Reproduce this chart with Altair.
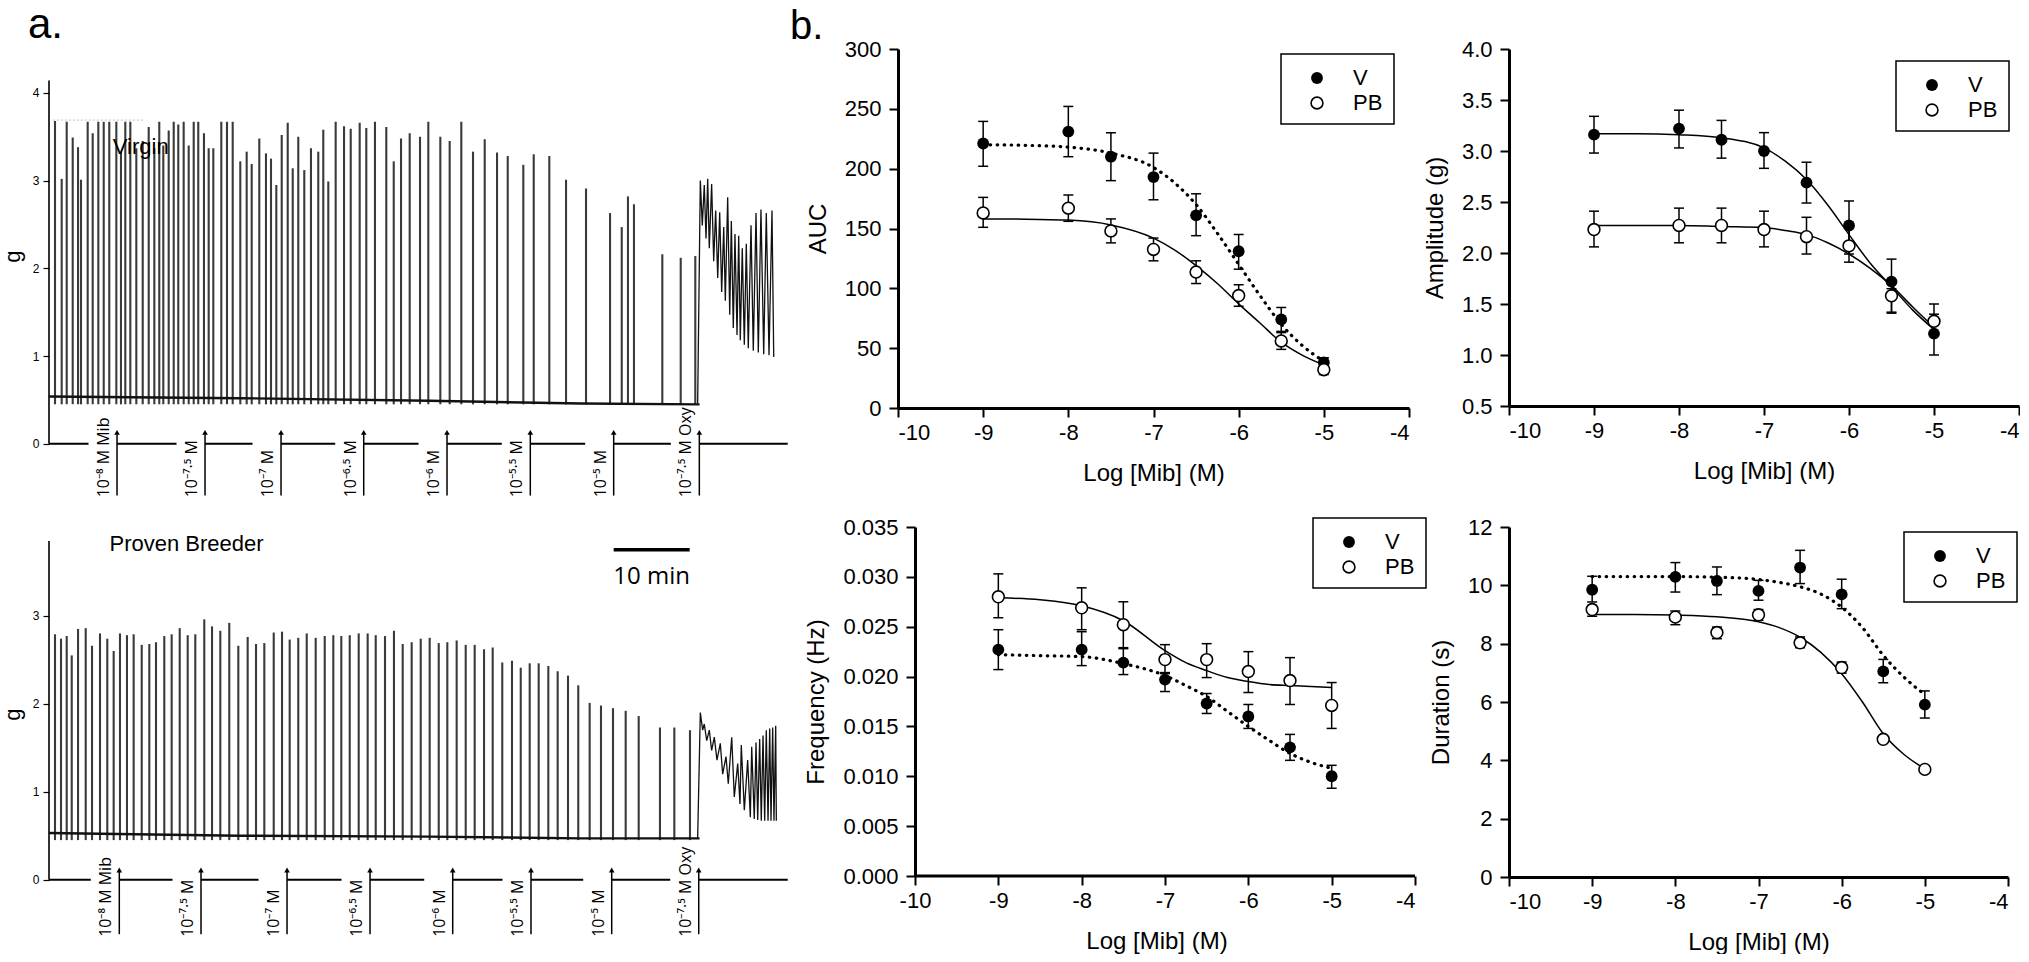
import altair as alt
import pandas as pd

FONT = "Liberation Sans"
LABEL_FONT = "Open Sans"

# ---------------------------------------------------------------
# a. Isometric tension recordings (time in min, tension in g)
# ---------------------------------------------------------------
virgin_peak_min = [0.79, 1.67, 2.33, 3.12, 3.82, 4.21, 5.09, 5.75, 6.49, 7.20,
                   7.93, 8.86, 9.47, 10.04, 10.70, 11.49, 12.33, 13.12, 13.86, 14.51,
                   15.04, 15.75, 16.41, 17.01, 17.72, 18.38, 19.04, 19.64, 20.39, 21.01,
                   21.62, 22.67, 23.42, 24.17, 25.17, 26.01, 26.67, 27.67, 28.55, 29.21,
                   29.91, 30.62, 31.41, 32.07, 32.80, 33.59, 34.47, 35.43, 36.09, 36.75,
                   37.72, 38.82, 39.70, 40.88, 41.75, 42.89, 44.38, 45.36, 46.32, 47.46,
                   48.82, 49.91, 51.49, 52.72, 54.25, 55.79, 57.33, 58.95, 60.36, 62.41,
                   63.78, 65.83, 68.03, 70.66, 73.82, 75.36, 76.18, 76.97, 80.70, 83.12,
                   85.04]
virgin_peak_g = [3.68, 3.02, 3.67, 3.49, 3.38, 3.01, 3.67, 3.54, 3.67, 3.67,
                 3.67, 3.67, 3.33, 3.67, 3.67, 3.37, 3.45, 3.61, 3.37, 3.67,
                 3.40, 3.57, 3.67, 3.64, 3.67, 3.40, 3.67, 3.67, 3.54, 3.37,
                 3.37, 3.67, 3.67, 3.67, 3.22, 3.33, 3.19, 3.48, 3.31, 3.25,
                 2.95, 3.52, 3.66, 3.14, 3.50, 3.12, 3.37, 3.33, 3.58, 2.99,
                 3.67, 3.62, 3.59, 3.66, 3.60, 3.67, 3.61, 3.22, 3.48, 3.54,
                 3.50, 3.67, 3.50, 3.45, 3.67, 3.33, 3.47, 3.32, 3.28, 3.18,
                 3.30, 3.28, 3.01, 2.91, 2.63, 2.47, 2.82, 2.73, 2.16, 2.12,
                 2.14]
virgin_base_min = [0, 25, 50, 70, 85.6]
virgin_base_g = [0.54, 0.52, 0.49, 0.46, 0.45]
virgin_oxy_min = [85.35, 85.70, 85.96, 86.22, 86.45, 86.67, 86.88, 87.19, 87.46, 87.72,
                  87.99, 88.25, 88.51, 88.78, 88.99, 89.30, 89.57, 89.78, 90.04, 90.26,
                  90.53, 90.75, 90.96, 91.22, 91.49, 91.75, 92.01, 92.37, 92.67, 93.03,
                  93.33, 93.68, 94.04, 94.38, 94.74, 95.13, 95.36]
virgin_oxy_g = [0.46, 3.00, 2.49, 2.95, 2.34, 3.02, 2.23, 2.96, 2.08, 2.66,
                1.89, 2.64, 1.73, 2.47, 1.63, 2.81, 1.47, 2.54, 1.32, 2.39,
                1.24, 2.37, 1.18, 2.23, 1.13, 2.28, 1.09, 2.49, 1.06, 2.63,
                1.04, 2.67, 1.02, 2.63, 1.01, 2.66, 0.99]
virgin_add_min = [8.95, 20.53, 30.53, 41.41, 52.37, 63.33, 74.30, 85.57]

breeder_peak_min = [0.79, 1.58, 2.33, 2.99, 3.82, 4.83, 5.66, 6.71, 7.67, 8.51,
                    9.34, 10.26, 11.14, 12.20, 13.20, 14.08, 15.17, 16.14, 17.20, 18.25,
                    19.25, 20.43, 21.45, 22.54, 23.72, 24.91, 26.14, 27.24, 28.33, 29.57,
                    30.66, 31.67, 32.80, 33.91, 35.09, 36.28, 37.41, 38.46, 39.57, 40.75,
                    41.93, 42.99, 44.21, 45.39, 46.54, 47.72, 48.91, 50.09, 51.28, 52.41,
                    53.64, 54.83, 56.01, 57.24, 58.38, 59.64, 60.92, 62.07, 63.25, 64.43,
                    65.70, 66.93, 68.29, 69.64, 71.14, 72.63, 74.21, 75.88, 77.59, 80.39,
                    82.28, 84.34]
breeder_peak_g = [2.79, 2.74, 2.77, 2.55, 2.85, 2.86, 2.66, 2.80, 2.74, 2.60,
                  2.80, 2.78, 2.79, 2.67, 2.68, 2.70, 2.77, 2.79, 2.86, 2.78,
                  2.79, 2.96, 2.88, 2.83, 2.92, 2.66, 2.76, 2.68, 2.69, 2.81,
                  2.82, 2.73, 2.75, 2.80, 2.75, 2.77, 2.78, 2.77, 2.78, 2.80,
                  2.80, 2.78, 2.77, 2.83, 2.68, 2.70, 2.74, 2.75, 2.69, 2.70,
                  2.72, 2.67, 2.67, 2.62, 2.64, 2.47, 2.49, 2.41, 2.46, 2.46,
                  2.43, 2.37, 2.32, 2.21, 2.01, 1.98, 1.95, 1.92, 1.86, 1.73,
                  1.73, 1.70]
breeder_base_min = [0, 25, 50, 70, 85.6]
breeder_base_g = [0.53, 0.50, 0.49, 0.47, 0.47]
breeder_oxy_min = [85.35, 85.70, 86.01, 86.22, 86.54, 86.88, 87.19, 87.54, 87.89, 88.33,
                   88.64, 89.08, 89.38, 89.83, 90.17, 90.62, 90.92, 91.09, 91.49, 91.93,
                   92.28, 92.46, 92.80, 93.03, 93.25, 93.51, 93.72, 93.95, 94.17, 94.38,
                   94.61, 94.83, 95.00, 95.22, 95.39, 95.62, 95.70]
breeder_oxy_g = [0.47, 1.90, 1.70, 1.77, 1.58, 1.70, 1.47, 1.62, 1.36, 1.55,
                 1.20, 1.40, 1.09, 1.62, 0.94, 1.32, 0.86, 1.53, 0.79, 1.36,
                 0.71, 1.51, 0.69, 1.56, 0.68, 1.60, 0.67, 1.64, 0.67, 1.70,
                 0.67, 1.72, 0.67, 1.73, 0.67, 1.75, 0.67]
breeder_add_min = [9.25, 20.00, 31.32, 42.24, 53.12, 63.42, 74.04, 85.49]

additions = ["10⁻⁸ M Mib", "10⁻⁷·⁵ M", "10⁻⁷ M", "10⁻⁶·⁵ M", "10⁻⁶ M",
             "10⁻⁵·⁵ M", "10⁻⁵ M", "10⁻⁷·⁵ M Oxy"]

# ---------------------------------------------------------------
# b. Concentration-response data (mean with SEM bars) and fitted curves
# ---------------------------------------------------------------
dose = [-9, -8, -7.5, -7, -6.5, -6, -5.5, -5]
fit_dose = [-9, -8.5, -8, -7.5, -7, -6.75, -6.5, -6.25, -6, -5.75, -5.5, -5.25, -5]

auc_v = [221, 231, 210, 193, 161, 131, 74, 38]
auc_v_lo = [202, 210, 190, 174, 144, 116, 64, 33]
auc_v_hi = [239.5, 252, 230, 213, 179, 145, 84, 42]
auc_pb = [163, 167, 148, 132.5, 113.6, 94, 56, 32]
auc_pb_lo = [151, 156, 138, 123, 104, 85, 49, 28]
auc_pb_hi = [176, 178, 158, 142, 123, 103, 63, 35]
auc_v_fit = [220, 219.5, 218, 213, 201, 188, 170, 146, 120, 94, 70, 52, 39]
auc_pb_fit = [158, 157.8, 157, 153, 142, 132, 119, 104, 87, 71, 55, 44, 36]

amp_v = [3.16, 3.22, 3.11, 3.00, 2.69, 2.27, 1.72, 1.21]
amp_v_lo = [2.98, 3.03, 2.93, 2.83, 2.49, 1.99, 1.42, 1.00]
amp_v_hi = [3.34, 3.40, 3.30, 3.18, 2.89, 2.51, 1.94, 1.40]
amp_pb = [2.23, 2.27, 2.27, 2.23, 2.16, 2.07, 1.58, 1.33]
amp_pb_lo = [2.06, 2.10, 2.10, 2.06, 1.99, 1.91, 1.41, 1.20]
amp_pb_hi = [2.41, 2.44, 2.44, 2.41, 2.35, 2.25, 1.65, 1.50]
amp_v_fit = [3.17, 3.17, 3.16, 3.13, 3.03, 2.90, 2.72, 2.47, 2.18, 1.90, 1.67, 1.44, 1.25]
amp_pb_fit = [2.27, 2.27, 2.27, 2.26, 2.25, 2.22, 2.18, 2.10, 1.99, 1.85, 1.68, 1.47, 1.27]

freq_v = [0.0227, 0.0227, 0.0214, 0.0197, 0.0173, 0.0160, 0.0129, 0.0100]
freq_v_lo = [0.0207, 0.0211, 0.0202, 0.0185, 0.0163, 0.0148, 0.0116, 0.0088]
freq_v_hi = [0.0247, 0.0245, 0.0229, 0.0204, 0.0183, 0.0172, 0.0142, 0.0111]
freq_pb = [0.0280, 0.0269, 0.0252, 0.0217, 0.0217, 0.0205, 0.0196, 0.0171]
freq_pb_lo = [0.0259, 0.0247, 0.0228, 0.0203, 0.0199, 0.0184, 0.0172, 0.0148]
freq_pb_hi = [0.0303, 0.0289, 0.0275, 0.0232, 0.0233, 0.0225, 0.0219, 0.0194]
freq_v_fit = [0.0222, 0.0221, 0.0220, 0.0213, 0.0201, 0.0191, 0.0180, 0.0165, 0.0150,
              0.0136, 0.0123, 0.0114, 0.0108]
freq_pb_fit = [0.0279, 0.0277, 0.0271, 0.0256, 0.0226, 0.0214, 0.0206, 0.0199, 0.0195,
               0.0192, 0.0191, 0.0190, 0.0189]

dur_v = [9.85, 10.29, 10.15, 9.81, 10.61, 9.69, 7.05, 5.91]
dur_v_lo = [9.43, 9.77, 9.68, 9.49, 10.06, 9.20, 6.66, 5.45]
dur_v_hi = [10.31, 10.78, 10.63, 10.17, 11.20, 10.21, 7.46, 6.38]
dur_pb = [9.17, 8.91, 8.38, 8.99, 8.03, 7.18, 4.72, 3.69]
dur_pb_lo = [8.94, 8.65, 8.17, 8.80, 7.86, 6.99, 4.62, 3.59]
dur_pb_hi = [9.31, 9.12, 8.57, 9.17, 8.23, 7.37, 4.82, 3.79]
dur_v_fit = [10.30, 10.30, 10.30, 10.28, 10.20, 10.10, 9.95, 9.70, 9.25, 8.55, 7.60, 6.85, 6.25]
dur_pb_fit = [9.00, 9.00, 8.98, 8.92, 8.75, 8.55, 8.22, 7.70, 6.97, 6.00, 4.91, 4.20, 3.71]

# ---------------------------------------------------------------
REC_END = 97.2           # minutes covered by the time line
PX_PER_MIN = 7.6
TRACE_W = 755            # plot width of the recordings (a little blank room at right)
TRACE_END = TRACE_W / PX_PER_MIN
LABEL_GAP = 28.5 / PX_PER_MIN   # break in the time line left of each arrow

one = pd.DataFrame({"k": [0]})


def trace_panel(peak_t, peak_g, base_t, base_g, oxy_t, oxy_g, add_t,
                y_dom, height, axis_top, ticks, arrow_lo, arrow_hi, label_y,
                title_y, extras):
    xs = alt.Scale(domain=[0, TRACE_END], nice=False, zero=False)
    ys = alt.Scale(domain=y_dom, nice=False, zero=False)
    yaxis = alt.Axis(values=ticks, domain=False, grid=False, tickSize=6,
                     tickWidth=1.2, labelFontSize=12, labelPadding=4,
                     labelFont=FONT, title="g", titleFontSize=22, titleFont=FONT,
                     titleFontWeight="normal", titleAngle=270, titleX=-37,
                     titleY=title_y, titleAlign="center", titleBaseline="middle")

    def X(f):
        return alt.X(f, type="quantitative", scale=xs, axis=None)

    def Y(f):
        return alt.Y(f, type="quantitative", scale=ys, axis=yaxis)

    axis_df = pd.DataFrame({"t": [0.0], "lo": [0.0], "hi": [axis_top]})
    axis_line = alt.Chart(axis_df).mark_rule(color="black", strokeWidth=1.6).encode(
        x=X("t"), y=Y("lo"), y2="hi")

    seg_df = pd.DataFrame({"s": [0.0] + add_t,
                           "e": [a - LABEL_GAP for a in add_t] + [REC_END],
                           "y": 0.0})
    time_line = alt.Chart(seg_df).mark_rule(color="black", strokeWidth=2).encode(
        x=X("s"), x2="e", y=Y("y"))

    add_df = pd.DataFrame({"t": add_t, "lab": additions, "lo": arrow_lo,
                           "hi": arrow_hi, "ly": label_y})
    arrows = alt.Chart(add_df).mark_rule(color="black", strokeWidth=1.5).encode(
        x=X("t"), y=Y("lo"), y2="hi")
    heads = alt.Chart(add_df).mark_point(shape="triangle-up", filled=True,
                                         color="black", size=32, opacity=1).encode(
        x=X("t"), y=Y("hi"))
    labels = alt.Chart(add_df).mark_text(angle=270, align="left", baseline="bottom",
                                         dy=-5, fontSize=16, font=LABEL_FONT,
                                         color="black").encode(
        x=X("t"), y=Y("ly"), text="lab:N")

    pk_df = pd.DataFrame({"t": peak_t, "g": peak_g, "b": 0.45})
    peaks = alt.Chart(pk_df).mark_rule(color="#3a3a3a", strokeWidth=2.1).encode(
        x=X("t"), y=Y("b"), y2="g")

    base_df = pd.DataFrame({"t": base_t, "g": base_g})
    base = alt.Chart(base_df).mark_line(color="#111111", strokeWidth=2.4).encode(
        x=X("t"), y=Y("g"))

    oxy_df = pd.DataFrame({"t": oxy_t, "g": oxy_g})
    oxy = alt.Chart(oxy_df).mark_line(color="#111111", strokeWidth=1.3).encode(
        x=X("t"), y=Y("g"))

    layers = [axis_line, time_line, peaks, base, oxy, arrows, heads, labels]
    layers += extras(X, Y)
    return alt.layer(*layers).properties(width=TRACE_W, height=height)


def virgin_extras(X, Y):
    txt = pd.DataFrame({"t": [8.4], "g": [3.38], "s": ["Virgin"]})
    clip = pd.DataFrame({"t": [0.5], "t2": [12.4], "g": [3.69]})
    return [
        alt.Chart(clip).mark_rule(color="#cfcfcf", strokeWidth=1.2,
                                  strokeDash=[2, 2]).encode(x=X("t"), x2="t2", y=Y("g")),
        alt.Chart(txt).mark_text(align="left", baseline="middle", fontSize=22,
                                 font=FONT, color="black").encode(
            x=X("t"), y=Y("g"), text="s:N"),
        alt.Chart(one).mark_text(text="a.", align="left", baseline="alphabetic",
                                 fontSize=42, font=FONT, color="black").encode(
            x=alt.value(-21), y=alt.value(-11)),
        # keeps the page origin at the top-left corner
        alt.Chart(one).mark_rule(color="white", strokeWidth=0.2).encode(
            x=alt.value(-48), x2=alt.value(-47.5), y=alt.value(-48)),
    ]


def breeder_extras(X, Y):
    txt = pd.DataFrame({"t": [7.96], "g": [3.82], "s": ["Proven Breeder"]})
    bar = pd.DataFrame({"t": [74.3], "t2": [84.3], "g": [3.75]})
    bar_txt = pd.DataFrame({"t": [79.3], "g": [3.44], "s": ["10 min"]})
    return [
        alt.Chart(txt).mark_text(align="left", baseline="middle", fontSize=22,
                                 font=FONT, color="black").encode(
            x=X("t"), y=Y("g"), text="s:N"),
        alt.Chart(bar).mark_rule(color="black", strokeWidth=3.5).encode(
            x=X("t"), x2="t2", y=Y("g")),
        alt.Chart(bar_txt).mark_text(align="center", baseline="middle", fontSize=24,
                                     font="Open Sans", color="black").encode(
            x=X("t"), y=Y("g"), text="s:N"),
    ]


top_trace = trace_panel(virgin_peak_min, virgin_peak_g, virgin_base_min, virgin_base_g,
                        virgin_oxy_min, virgin_oxy_g, virgin_add_min,
                        [-0.8, 4.5], 465, 4.14, [0, 1, 2, 3, 4],
                        -0.59, 0.13, -0.61, 207, virgin_extras)
bottom_trace = trace_panel(breeder_peak_min, breeder_peak_g, breeder_base_min,
                           breeder_base_g, breeder_oxy_min, breeder_oxy_g,
                           breeder_add_min, [-0.72, 4.01], 416, 3.85, [0, 1, 2, 3],
                           -0.62, 0.11, -0.65, 187, breeder_extras)


def legend_layers(bx, by):
    return [
        alt.Chart(one).mark_rect(fill="white", stroke="black", strokeWidth=1.5).encode(
            x=alt.value(bx), x2=alt.value(bx + 113), y=alt.value(by), y2=alt.value(by + 70)),
        alt.Chart(one).mark_point(filled=True, color="black", size=140, opacity=1).encode(
            x=alt.value(bx + 36), y=alt.value(by + 24)),
        alt.Chart(one).mark_point(filled=True, fill="white", stroke="black",
                                  strokeWidth=1.6, size=140, opacity=1).encode(
            x=alt.value(bx + 36), y=alt.value(by + 49)),
        alt.Chart(one).mark_text(text="V", align="left", baseline="middle", fontSize=22,
                                 font=FONT, color="black").encode(
            x=alt.value(bx + 72), y=alt.value(by + 24)),
        alt.Chart(one).mark_text(text="PB", align="left", baseline="middle", fontSize=22,
                                 font=FONT, color="black").encode(
            x=alt.value(bx + 72), y=alt.value(by + 49)),
    ]


def dose_panel(v, v_lo, v_hi, pb, pb_lo, pb_hi, v_fit, pb_fit, v_dotted,
               y_ticks, y_fmt, y_title, width, height, x_lo, legend_at, letter=False):
    xs = alt.Scale(domain=[x_lo, -4], nice=False, zero=False)
    ys = alt.Scale(domain=[y_ticks[0], y_ticks[-1]], nice=False, zero=False)
    shifted = x_lo != -10
    xaxis = alt.Axis(values=[-10, -9, -8, -7, -6, -5, -4], labelExpr="'' + datum.value",
                     domain=not shifted, domainWidth=3, tickWidth=2, tickSize=9,
                     labelFontSize=22, labelPadding=5, labelFont=FONT, grid=False,
                     title="Log [Mib] (M)", titleFontSize=24, titleFont=FONT,
                     titleFontWeight="normal", titlePadding=18)
    yaxis = alt.Axis(values=y_ticks, format=y_fmt, domainWidth=3, tickWidth=2,
                     tickSize=9, labelFontSize=22, labelPadding=8, labelFont=FONT,
                     grid=False, title=y_title, titleFontSize=24, titleFont=FONT,
                     titleFontWeight="normal", titlePadding=14,
                     offset=-round((-10 - x_lo) * width / (-4 - x_lo)) if shifted else 0)

    def X(f):
        return alt.X(f, type="quantitative", scale=xs, axis=xaxis)

    def Y(f):
        return alt.Y(f, type="quantitative", scale=ys, axis=yaxis)

    pts = pd.DataFrame({"dose": dose * 2, "m": v + pb, "lo": v_lo + pb_lo,
                        "hi": v_hi + pb_hi, "grp": ["V"] * 8 + ["PB"] * 8})
    fits_v = pd.DataFrame({"dose": fit_dose, "m": v_fit})
    fits_pb = pd.DataFrame({"dose": fit_dose, "m": pb_fit})

    err = alt.Chart(pts).mark_rule(color="black", strokeWidth=1.5).encode(
        x=X("dose"), y=Y("lo"), y2="hi")
    cap_lo = alt.Chart(pts).mark_tick(orient="horizontal", size=10, thickness=1.5,
                                      color="black", opacity=1).encode(x=X("dose"), y=Y("lo"))
    cap_hi = alt.Chart(pts).mark_tick(orient="horizontal", size=10, thickness=1.5,
                                      color="black", opacity=1).encode(x=X("dose"), y=Y("hi"))
    if v_dotted:
        line_v = alt.Chart(fits_v).mark_line(color="black", strokeWidth=3.2,
                                             strokeDash=[0.5, 6.5], strokeCap="round",
                                             interpolate="monotone")
    else:
        line_v = alt.Chart(fits_v).mark_line(color="black", strokeWidth=1.5,
                                             interpolate="monotone")
    line_v = line_v.encode(x=X("dose"), y=Y("m"))
    line_pb = alt.Chart(fits_pb).mark_line(color="black", strokeWidth=1.5,
                                           interpolate="monotone").encode(
        x=X("dose"), y=Y("m"))
    pv = alt.Chart(pts).transform_filter("datum.grp == 'V'").mark_point(
        filled=True, color="black", size=140, opacity=1).encode(x=X("dose"), y=Y("m"))
    ppb = alt.Chart(pts).transform_filter("datum.grp == 'PB'").mark_point(
        filled=True, fill="white", stroke="black", strokeWidth=1.6, size=140,
        opacity=1).encode(x=X("dose"), y=Y("m"))

    layers = [err, cap_lo, cap_hi, line_v, line_pb, pv, ppb]
    if shifted:
        axis_df = pd.DataFrame({"a": [-10.0], "b": [-4.0], "y": [y_ticks[0]]})
        layers.insert(0, alt.Chart(axis_df).mark_rule(color="black", strokeWidth=3).encode(
            x=X("a"), x2="b", y=Y("y")))
    layers += legend_layers(*legend_at)
    if letter:
        layers.append(alt.Chart(one).mark_text(text="b.", align="left",
                                               baseline="alphabetic", fontSize=40,
                                               font=FONT, color="black").encode(
            x=alt.value(-108), y=alt.value(-10)))
    return alt.layer(*layers).properties(width=width, height=height)


auc = dose_panel(auc_v, auc_v_lo, auc_v_hi, auc_pb, auc_pb_lo, auc_pb_hi,
                 auc_v_fit, auc_pb_fit, True, [0, 50, 100, 150, 200, 250, 300], "d",
                 "AUC", 511, 359, -10, (383, 5), letter=True)
amp = dose_panel(amp_v, amp_v_lo, amp_v_hi, amp_pb, amp_pb_lo, amp_pb_hi,
                 amp_v_fit, amp_pb_fit, False,
                 [0.5, 1.0, 1.5, 2.0, 2.5, 3.0, 3.5, 4.0], ".1f",
                 "Amplitude (g)", 510, 357, -10, (387, 12))
freq = dose_panel(freq_v, freq_v_lo, freq_v_hi, freq_pb, freq_pb_lo, freq_pb_hi,
                  freq_v_fit, freq_pb_fit, True,
                  [0.0, 0.005, 0.010, 0.015, 0.020, 0.025, 0.030, 0.035], ".3f",
                  "Frequency (Hz)", 517, 349, -10.204, (415, -9))
dur = dose_panel(dur_v, dur_v_lo, dur_v_hi, dur_pb, dur_pb_lo, dur_pb_hi,
                 dur_v_fit, dur_pb_fit, True, [0, 2, 4, 6, 8, 10, 12], "d",
                 "Duration (s)", 499, 350, -10, (395, 5))

chart = alt.concat(
    top_trace, auc, amp, bottom_trace, freq, dur,
    columns=3, spacing={"row": 13, "column": 94}, bounds="flush", align="each"
).properties(
    padding=0, background="white"
).configure_view(strokeOpacity=0).configure_axis(
    labelColor="black", titleColor="black", tickColor="black", domainColor="black"
)

chart.save("out.html", embed_options={"renderer": "svg", "actions": False})
